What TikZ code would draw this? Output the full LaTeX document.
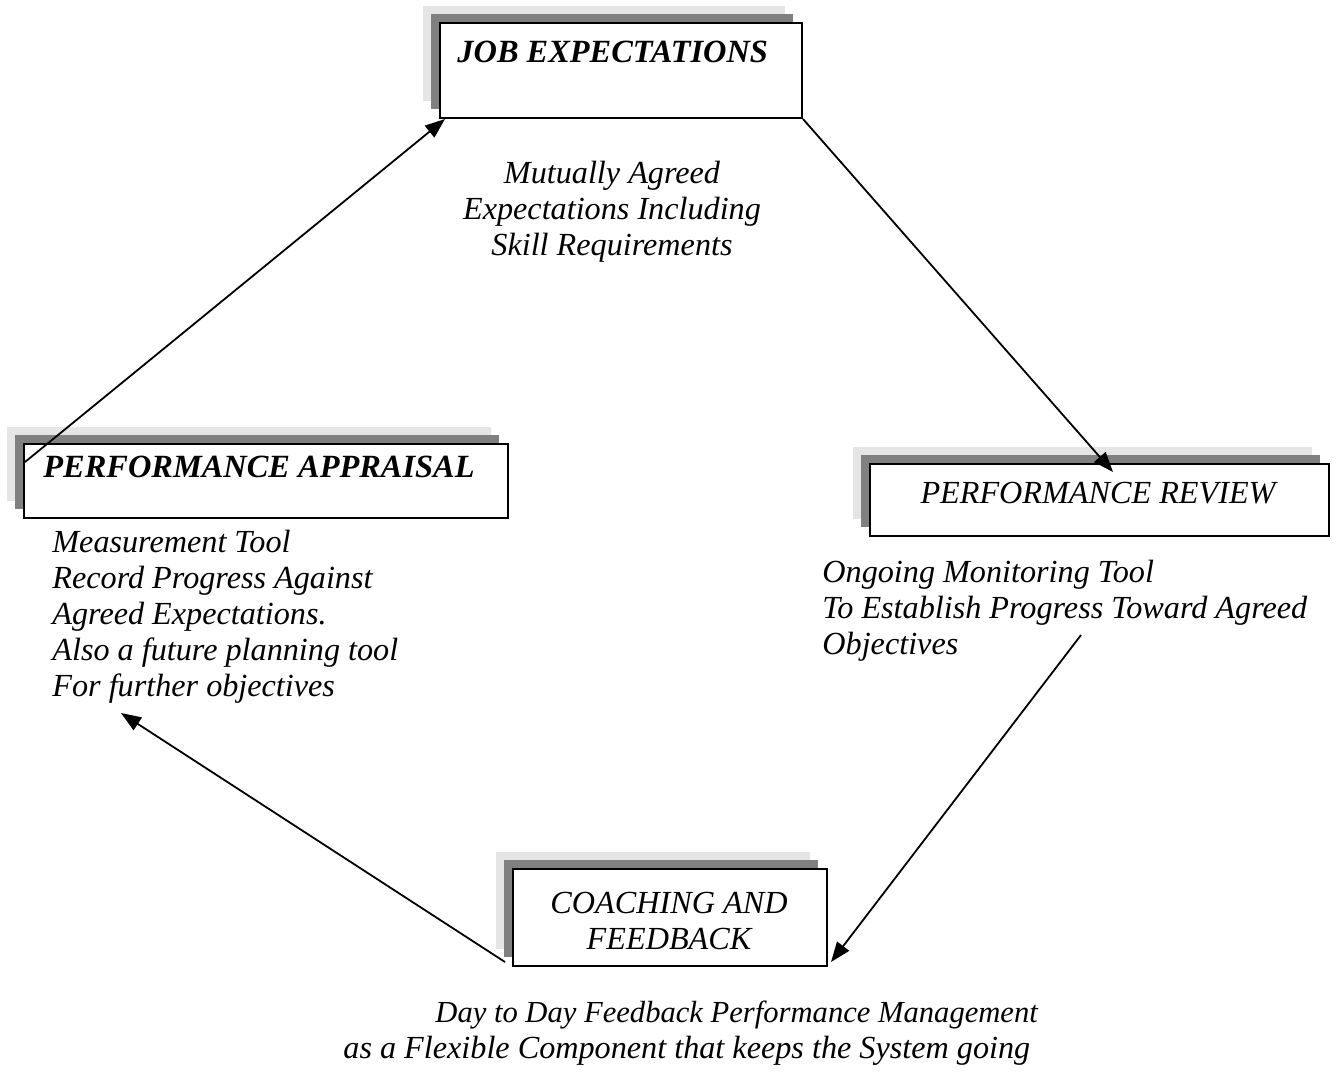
\documentclass[tikz,border=0pt]{standalone}
\usepackage{fontspec}
\setmainfont{Liberation Serif}
\usetikzlibrary{arrows.meta}
\definecolor{shlight}{HTML}{E5E5E5}
\definecolor{shdark}{HTML}{808080}
\tikzset{
  boxnode/.style={draw=black, line width=1pt, fill=white, rectangle, inner sep=0pt, anchor=north west},
  lbl/.style={inner sep=0pt, font=\fontsize{16.1}{18}\selectfont\itshape},
  blbl/.style={inner sep=0pt, font=\fontsize{16.2}{18}\selectfont\bfseries\itshape},
  conn/.style={line width=0.9pt, -{Triangle[length=10pt,width=7.5pt]}}
}
\newcommand{\shadowbox}[5]{% name, x1, y1, x2, y2 (white box)
  \fill[shlight] (#2-16,#3-16) rectangle (#4-16,#5-16);
  \fill[shdark] (#2-8,#3-8) rectangle (#4-8,#5-8);
  \node[boxnode, minimum width={(#4-#2)*0.5pt}, minimum height={(#5-#3)*0.5pt}] (#1) at (#2,#3) {};
}
\begin{document}
\begin{tikzpicture}[x=0.5pt,y=-0.5pt]
\useasboundingbox (0,0) rectangle (1336,1077);
% boxes
\shadowbox{je}{439}{22}{801}{117}
\shadowbox{pa}{23}{443}{507}{517}
\shadowbox{pr}{869}{463}{1328}{535}
\shadowbox{cf}{512}{868}{826}{965}
% box titles
\node[blbl, anchor=base west] (jet) at (457,62) {JOB EXPECTATIONS};
\node[blbl, anchor=base west] (pat) at (43,477) {PERFORMANCE APPRAISAL};
\node[lbl, anchor=base] (prt) at (1098,503) {PERFORMANCE REVIEW};
\node[lbl, anchor=base] (cft1) at (669,913) {COACHING AND};
\node[lbl, anchor=base] (cft2) at (669,949) {FEEDBACK};
% descriptions
\node[lbl, anchor=base] (m1) at (612,183) {Mutually Agreed};
\node[lbl, anchor=base] (m2) at (612,219) {Expectations Including};
\node[lbl, anchor=base] (m3) at (612,255) {Skill Requirements};
\node[lbl, anchor=base west] (a1) at (52,552) {Measurement Tool};
\node[lbl, anchor=base west] (a2) at (52,588) {Record Progress Against};
\node[lbl, anchor=base west] (a3) at (52,624) {Agreed Expectations.};
\node[lbl, anchor=base west] (a4) at (52,660) {Also a future planning tool};
\node[lbl, anchor=base west] (a5) at (52,696) {For further objectives};
\node[lbl, anchor=base west] (r1) at (822,582) {Ongoing Monitoring Tool};
\node[lbl, anchor=base west] (r2) at (822,618) {To Establish Progress Toward Agreed};
\node[lbl, anchor=base west] (r3) at (822,654) {Objectives};
\node[lbl, anchor=base west, font=\fontsize{15.3}{18}\selectfont\itshape] (d1) at (435,1022) {Day to Day Feedback Performance Management};
\node[lbl, anchor=base west] (d2) at (343,1058) {as a Flexible Component that keeps the System going};
% connector end points
\coordinate (s1) at (25,462);
\coordinate (e1) at (445,119);
\coordinate (e2) at (1113,472);
\coordinate (s3) at (1081,635);
\coordinate (e3) at (831,962);
\coordinate (s4) at (505,962);
\coordinate (e4) at (121,713);
% connectors
\draw[conn] (s1) -- (e1);
\draw[conn] (je.south east) -- (e2);
\draw[conn] (s3) -- (e3);
\draw[conn] (s4) -- (e4);
\end{tikzpicture}
\end{document}
